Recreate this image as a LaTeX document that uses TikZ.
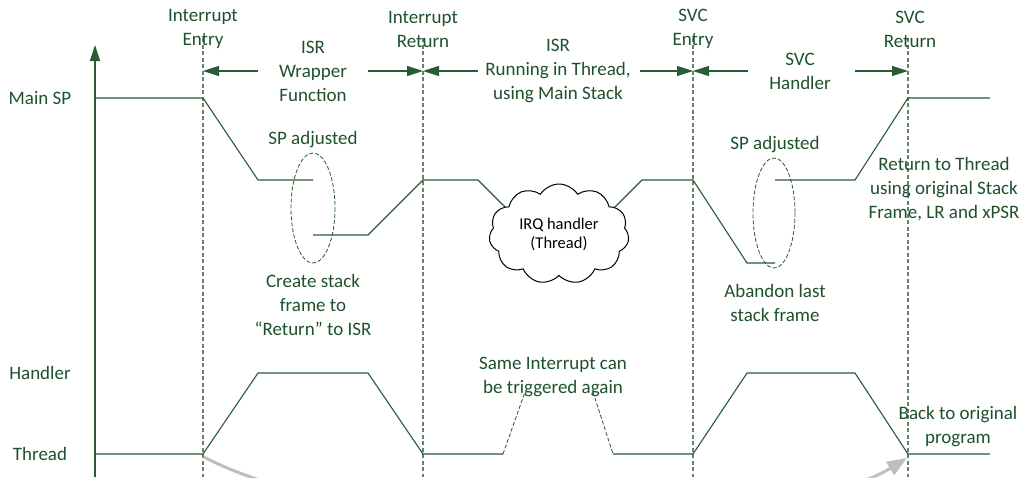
\documentclass[tikz,border=0pt]{standalone}
\usepackage{fontspec}
\setmainfont{Carlito}
\usetikzlibrary{arrows.meta,shapes.symbols}
\definecolor{dg}{RGB}{40,92,52}
\definecolor{tg}{RGB}{30,82,45}
\definecolor{vg}{RGB}{100,130,110}
\begin{document}
\begin{tikzpicture}[x=1pt,y=-1pt,
  lab/.style={text=tg,align=center,inner sep=0pt,font=\fontsize{19}{24}\selectfont},
  trace/.style={draw=dg,line width=1.1pt},
  ttrace/.style={draw=dg,line width=0.8pt,dash pattern=on 4pt off 2pt},
  vdash/.style={draw=vg,line width=1.1pt,dash pattern=on 4pt off 2.5pt},
  edash/.style={draw=dg,line width=0.8pt,dash pattern=on 4pt off 2pt},
  harrow/.style={draw=dg,line width=1.1pt,-{Triangle[length=16pt,width=10pt]}},
  grayarrow/.style={draw=black!25,line width=3pt,-{Triangle[length=20pt,width=15pt]}}]
\useasboundingbox (0,0) rectangle (1031,477);
\fill[white] (0,0) rectangle (1031,477);

% vertical dashed event lines
\coordinate (ieT) at (203,38); \coordinate (ieB) at (203,477);
\coordinate (irT) at (423,38); \coordinate (irB) at (423,477);
\coordinate (seT) at (693,38); \coordinate (seB) at (693,477);
\coordinate (srT) at (908,38); \coordinate (srB) at (908,477);
\draw[vdash] (ieT) -- (ieB);
\draw[vdash] (irT) -- (irB);
\draw[vdash] (seT) -- (seB);
\draw[vdash] (srT) -- (srB);

% axis
\coordinate (ax0) at (95,477); \coordinate (ax1) at (95,45);
\draw[draw=dg,line width=1.3pt,-{Triangle[length=16pt,width=10pt]}] (ax0) -- (ax1);

% labels on left
\node[lab] (mainsp) at (40,98) {Main SP};
\node[lab] (hand) at (40,373) {Handler};
\node[lab] (thr) at (40,454) {Thread};

% top labels
\node[lab] (ie) at (203,29) {Interrupt\\Entry};
\node[lab] (ir) at (423,29) {Interrupt\\Return};
\node[lab] (se) at (693,29) {SVC\\Entry};
\node[lab] (sr) at (910,29) {SVC\\Return};
\node[lab] (isrw) at (313,71) {ISR\\Wrapper\\Function};
\node[lab] (isrr) at (558,71) {ISR\\Running in Thread,\\using Main Stack};
\node[lab] (svch) at (800,71) {SVC\\Handler};

% span arrows
\coordinate (a1) at (258,71); \coordinate (a1e) at (203,71);
\coordinate (a2) at (368,71); \coordinate (a2e) at (423,71);
\coordinate (a3) at (478,71); \coordinate (a3e) at (423,71);
\coordinate (a4) at (640,71); \coordinate (a4e) at (693,71);
\coordinate (a5) at (748,71); \coordinate (a5e) at (693,71);
\coordinate (a6) at (855,71); \coordinate (a6e) at (908,71);
\draw[harrow] (a1) -- (a1e);
\draw[harrow] (a2) -- (a2e);
\draw[harrow] (a3) -- (a3e);
\draw[harrow] (a4) -- (a4e);
\draw[harrow] (a5) -- (a5e);
\draw[harrow] (a6) -- (a6e);

% Main SP trace
\draw[trace] (95,98) -- (203,98) -- (258,180) -- (313,180);
\draw[trace] (313,235) -- (368,235) -- (423,180) -- (478,180) -- (513,215);
\draw[trace] (607,215) -- (642,180) -- (693,180) -- (747,263) -- (775,263);
\draw[trace] (775,180) -- (855,180) -- (908,98) -- (990,98);

% cloud
\node[cloud,draw=black,fill=white,line width=1pt,cloud puffs=11,cloud puff arc=115,
      cloud ignores aspect,minimum width=140pt,minimum height=100pt,inner sep=0pt,
      align=center,font=\fontsize{16.5}{19}\selectfont] (irq) at (559,234) {IRQ handler\\(Thread)};

% ellipses
\draw[edash] (313,208) ellipse [x radius=22, y radius=55];
\draw[edash] (774,213) ellipse [x radius=21, y radius=55];
\node[lab] (spa1) at (313,140) {SP adjusted};
\node[lab] (spa2) at (775,145) {SP adjusted};
\node[lab] (csf) at (313,305) {Create stack\\frame to\\“Return” to ISR};
\node[lab] (abl) at (775,303) {Abandon last\\stack frame};
\node[lab] (rtt) at (944,189) {Return to Thread\\using original Stack\\Frame, LR and xPSR};

% Handler/Thread trace
\draw[trace] (95,454) -- (203,454) -- (258,373) -- (368,373) -- (423,454) -- (503,454);
\draw[ttrace] (503,454) -- (525,392);
\draw[ttrace] (593,392) -- (613,454);
\draw[trace] (613,454) -- (693,454) -- (747,373) -- (855,373) -- (908,454) -- (990,454);
\node[lab] (same) at (553,377) {Same Interrupt can\\be triggered again};
\node[lab] (back) at (958,427) {Back to original\\program};

% grey arrow
\coordinate (g0) at (204,457);
\coordinate (g1) at (907,458);
\begin{scope}
\clip (0,0) rectangle (1031,477);
\draw[grayarrow] (g0) .. controls (370,545) and (790,530) .. (g1);
\end{scope}
\end{tikzpicture}
\end{document}
